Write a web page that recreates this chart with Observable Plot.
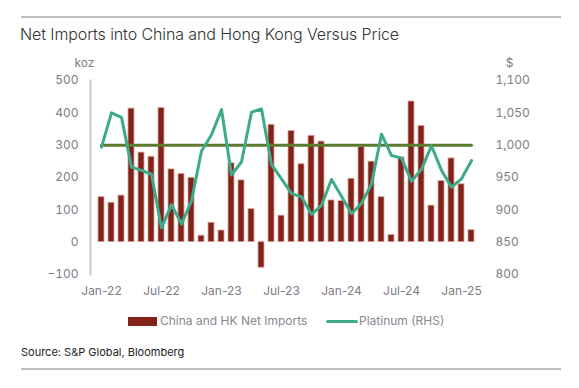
<!DOCTYPE html>
<html>
<head>
<meta charset="utf-8">
<script src="https://cdn.jsdelivr.net/npm/d3@7"></script>
<script src="https://cdn.jsdelivr.net/npm/@observablehq/plot@0.6"></script>
<style>
  html, body { margin: 0; padding: 0; background: #fff; }
  body { width: 579px; height: 388px; position: relative; overflow: hidden; font-family: Inter, "Noto Sans", sans-serif; }
  .rule { position: absolute; left: 21px; width: 540px; height: 0; border-top: 2px solid #bdbdbd; }
  #title { position: absolute; left: 20px; top: 24px; font-size: 16px; color: #333; font-weight: 300; letter-spacing: -0.1px; }
  #chart { position: absolute; left: 0; top: 50px; }
  #legend { position: absolute; top: 313px; left: 0; width: 579px; font-size: 12px; color: #8a8690; }
  .sw { position: absolute; }
  .lt { position: absolute; top: 0; white-space: nowrap; }
  #source { position: absolute; left: 21px; top: 345px; font-size: 11px; color: #222; }
</style>
</head>
<body>
<div class="rule" style="top:16px"></div>
<div id="title">Net Imports into China and Hong Kong Versus Price</div>
<div id="chart"></div>
<div id="legend">
  <div class="sw" style="left:128px; top:4px; width:29px; height:9px; background:#82231a"></div>
  <div class="lt" style="left:160px">China and HK Net Imports</div>
  <div class="sw" style="left:326px; top:7px; width:32px; height:3px; background:#3dab8a; border-radius:2px"></div>
  <div class="lt" style="left:359px">Platinum (RHS)</div>
</div>
<div id="source">Source: S&amp;P Global, Bloomberg</div>
<div class="rule" style="top:368px"></div>
<script>
// Months Jan-22 .. Feb-25
const months = [
  "Jan-22","Feb-22","Mar-22","Apr-22","May-22","Jun-22","Jul-22","Aug-22","Sep-22","Oct-22","Nov-22","Dec-22",
  "Jan-23","Feb-23","Mar-23","Apr-23","May-23","Jun-23","Jul-23","Aug-23","Sep-23","Oct-23","Nov-23","Dec-23",
  "Jan-24","Feb-24","Mar-24","Apr-24","May-24","Jun-24","Jul-24","Aug-24","Sep-24","Oct-24","Nov-24","Dec-24",
  "Jan-25","Feb-25"
];
// China and HK net imports (koz)
const netImports = [
  139, 122, 144, 413, 277, 264, 415, 225, 211, 199, 20, 60,
  36, 244, 191, 102, -79, 363, 82, 344, 241, 329, 311, 129,
  127, 196, 294, 249, 139, 22, 262, 435, 359, 113, 189, 259,
  179, 37
];
// Platinum price (USD, RHS)
const platinum = [
  997, 1050, 1043, 966, 961, 955, 872, 908, 878, 914, 991, 1016,
  1055, 954, 974, 1051, 1056, 970, 948, 925, 920, 893, 907, 947,
  921, 894, 910, 940, 1017, 984, 980, 944, 963, 999, 961, 935,
  948, 976
];
const refLevel = 1000;
const leftTicks = [-100, 0, 100, 200, 300, 400, 500];
const xTickLabels = ["Jan-22","Jul-22","Jan-23","Jul-23","Jan-24","Jul-24","Jan-25"];

// right axis ($) mapped onto left axis (koz): 800..1100 <-> -100..500
const toLeft = p => (p - 850) * 2;
const toRight = v => 850 + v / 2;

const bars = months.map((m, i) => ({m, v: netImports[i]}));
const price = months.map((m, i) => ({m, v: toLeft(platinum[i])}));
const ref = months.map(m => ({m, v: toLeft(refLevel)}));

const fmt = d3.format(",");
const chart = Plot.plot({
  width: 579,
  height: 250,
  marginLeft: 90,
  marginRight: 97,
  marginTop: 30,
  marginBottom: 26,
  style: {fontFamily: "Inter, 'Noto Sans', sans-serif", fontSize: "12px", color: "#807c86", background: "transparent"},
  x: {type: "band", domain: months, paddingInner: 0.42, paddingOuter: 0.195, axis: null},
  y: {domain: [-100, 500], axis: null},
  marks: [
    Plot.axisY({anchor: "left", ticks: leftTicks, tickSize: 0, tickPadding: 12, label: null, fontSize: 12, fill: "#807c86"}),
    Plot.axisY({anchor: "right", ticks: leftTicks, tickSize: 0, tickPadding: 13, tickFormat: d => fmt(toRight(d)), label: null, fontSize: 12, fill: "#807c86", textAnchor: "start"}),
    Plot.axisX({ticks: xTickLabels, tickSize: 0, tickPadding: 12, label: null, fontSize: 12, fill: "#807c86"}),
    Plot.frame({anchor: "left", stroke: "#c8c8c8", strokeWidth: 2, strokeOpacity: 1}),
    Plot.text(["koz"], {frameAnchor: "top-left", dx: -16, dy: -22, fill: "#807c86", fontSize: 12}),
    Plot.text(["$"], {frameAnchor: "top-right", dx: 31, dy: -22, fill: "#807c86", fontSize: 12}),
    Plot.barY(bars, {x: "m", y: "v", fill: "#82231a", stroke: "#d9a39a", strokeWidth: 0.8}),
    Plot.lineY(ref, {x: "m", y: "v", stroke: "#5b7b2e", strokeWidth: 3}),
    Plot.lineY(price, {x: "m", y: "v", stroke: "#3dab8a", strokeWidth: 3, strokeLinejoin: "round", strokeLinecap: "round"})
  ]
});
document.getElementById("chart").appendChild(chart);
</script>
</body>
</html>
